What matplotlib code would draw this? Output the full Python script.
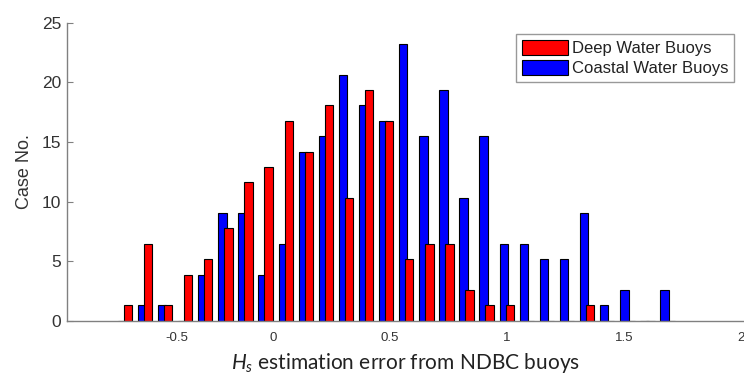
import numpy as np
import matplotlib
matplotlib.use("Agg")
import matplotlib.pyplot as plt

plt.rcParams["mathtext.fontset"] = "custom"
plt.rcParams["mathtext.it"] = "Lato:italic"
plt.rcParams["mathtext.rm"] = "Lato"

# Bin centres (error value) of the histogram bins
bin_centers = [-0.621, -0.535, -0.449, -0.363, -0.277, -0.191, -0.105, -0.019,
               0.067, 0.153, 0.239, 0.325, 0.411, 0.496, 0.582, 0.668,
               0.754, 0.840, 0.926, 1.012, 1.098, 1.184, 1.270, 1.355,
               1.441, 1.527, 1.613, 1.699]

deep_values = [1.29, 6.45, 1.29, 3.87, 5.16, 7.74, 11.61, 12.90,
               16.77, 14.19, 18.06, 10.32, 19.35, 16.77, 5.16, 6.45,
               6.45, 2.58, 1.29, 1.29, 0.0, 0.0, 0.0, 1.29,
               0.0, 0.0, 0.0, 0.0]

coastal_values = [0.0, 1.29, 1.29, 0.0, 3.87, 9.03, 9.03, 3.87,
                  6.45, 14.19, 15.48, 20.64, 18.06, 16.77, 23.22, 15.48,
                  19.35, 10.32, 15.48, 6.45, 6.45, 5.16, 5.16, 9.03,
                  1.29, 2.58, 0.0, 2.58]

series_labels = ["Deep Water Buoys", "Coastal Water Buoys"]
xtick_values = [-0.41, 0.0, 0.5, 1.0, 1.5, 2.0]
xtick_labels = ["-0.5", "0", "0.5", "1", "1.5", "2"]
ytick_values = [0, 5, 10, 15, 20, 25]

coastal_shift = -0.0256
bar_width = 0.036

fig = plt.figure(figsize=(7.44, 3.76), dpi=100)
ax = fig.add_axes([66.7 / 744, 1 - 320.7 / 376, 1 - 66.7 / 744, (320.7 - 22.7) / 376])

x = np.array(bin_centers)
hb = ax.bar(x + coastal_shift, coastal_values, width=bar_width, color="#0000ff",
            edgecolor="black", linewidth=0.8, label=series_labels[1], zorder=2)
hr = ax.bar(x, deep_values, width=bar_width, color="#ff0000",
            edgecolor="black", linewidth=0.8, label=series_labels[0], zorder=3)

ax.set_xlim(-0.882, 2.013)
ax.set_ylim(0, 25)
ax.set_xticks(xtick_values)
ax.set_xticklabels(xtick_labels)
ax.set_yticks(ytick_values)

for s in ["top", "right"]:
    ax.spines[s].set_visible(False)
for s in ["left", "bottom"]:
    ax.spines[s].set_color("#808080")
    ax.spines[s].set_linewidth(1.0)
    ax.spines[s].set_zorder(4)

ax.tick_params(axis="y", direction="in", length=4, color="#808080",
               labelsize=12.5, labelcolor="#333333", pad=4,
               labelfontfamily="Liberation Sans")
ax.tick_params(axis="x", direction="in", length=0, color="#808080",
               labelsize=9.5, labelcolor="#333333", pad=8,
               labelfontfamily="Liberation Sans")

ax.set_ylabel("Case No.", fontsize=13, family="Liberation Sans", color="#333333",
              labelpad=6)
ax.set_xlabel(r"$H_s$ estimation error from NDBC buoys", fontsize=15,
              family="Lato", color="#222222", labelpad=5)

leg = fig.legend(handles=[hr, hb], labels=series_labels, loc="upper right",
                 bbox_to_anchor=(734 / 744, 1 - 34 / 376),
                 prop={"family": "Liberation Sans", "size": 12},
                 frameon=True, fancybox=False, shadow=False,
                 handlelength=2.8, handleheight=1.0, handletextpad=0.2,
                 borderpad=0.35, labelspacing=0.25, borderaxespad=0)
leg.get_frame().set_edgecolor("#808080")
leg.get_frame().set_linewidth(1.0)
for t in leg.get_texts():
    t.set_color("#222222")

fig.savefig("out.png", dpi=100)
